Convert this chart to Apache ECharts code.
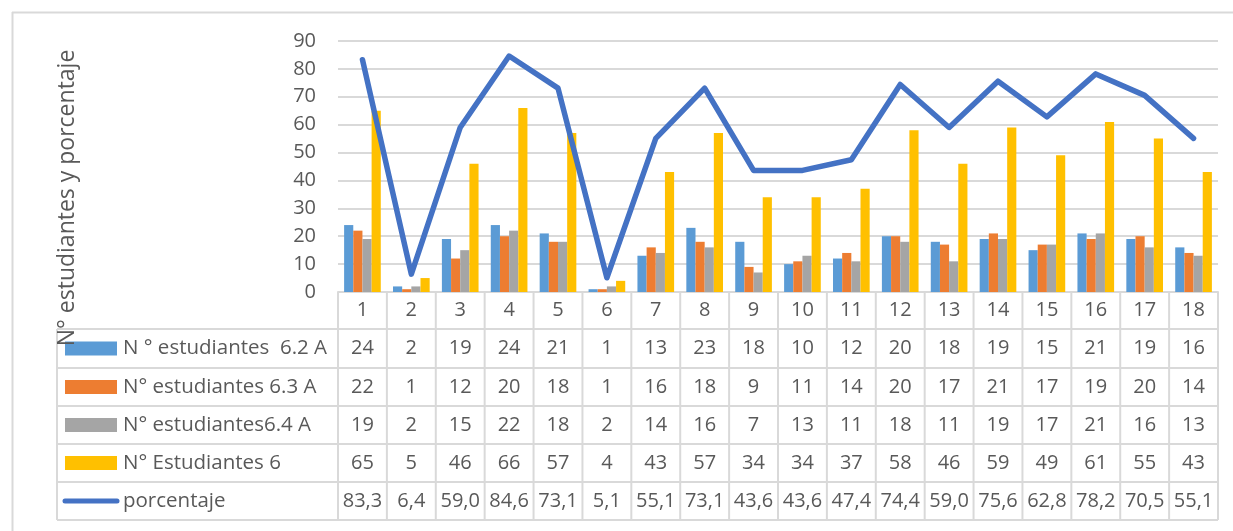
<!DOCTYPE html>
<html>
<head>
<meta charset="utf-8">
<script src="https://cdn.jsdelivr.net/npm/echarts@6/dist/echarts.min.js"></script>
<style>
html,body{margin:0;padding:0;background:#fff;}
#c{width:1233px;height:531px;}
</style>
</head>
<body>
<div id="c"></div>
<script>
const categories = ['1','2','3','4','5','6','7','8','9','10','11','12','13','14','15','16','17','18'];
const s62 = [24,2,19,24,21,1,13,23,18,10,12,20,18,19,15,21,19,16];
const s63 = [22,1,12,20,18,1,16,18,9,11,14,20,17,21,17,19,20,14];
const s64 = [19,2,15,22,18,2,14,16,7,13,11,18,11,19,17,21,16,13];
const s6  = [65,5,46,66,57,4,43,57,34,34,37,58,46,59,49,61,55,43];
const pct = [83.3,6.4,59.0,84.6,73.1,5.1,55.1,73.1,43.6,43.6,47.4,74.4,59.0,75.6,62.8,78.2,70.5,55.1];
const seriesNames = ['N ° estudiantes  6.2 A','N° estudiantes 6.3 A','N° estudiantes6.4 A','N° Estudiantes 6','porcentaje'];
const yTitle = 'N° estudiantes y porcentaje';

const colors = ['#5B9BD5','#ED7D31','#A5A5A5','#FFC000','#4472C4'];
const FONT = '"Open Sans"';
const TXT = '#595959';
const GRID = '#D9D9D9';

const chart = echarts.init(document.getElementById('c'), null, {renderer:'canvas'});
const barData = [s62, s63, s64, s6];
const series = barData.map((d, i) => ({
  name: seriesNames[i], type: 'bar', data: d, barGap: '0%', barCategoryGap: '25%',
  itemStyle: {color: colors[i]}, animation: false, z: 2
}));
series.push({
  name: seriesNames[4], type: 'line', data: pct, symbol: 'none',
  lineStyle: {color: colors[4], width: 5.5, cap: 'round', join: 'round'}, animation: false, z: 3
});

chart.setOption({
  animation: false,
  grid: {left: 338, right: 15, top: 41, bottom: 239},
  xAxis: {
    type: 'category', data: categories,
    axisLabel: {show: false}, axisTick: {show: false},
    axisLine: {lineStyle: {color: GRID, width: 2}}
  },
  yAxis: {
    type: 'value', min: 0, max: 90, interval: 10,
    axisLabel: {fontFamily: 'Open Sans', fontSize: 20, color: TXT, margin: 22},
    splitLine: {lineStyle: {color: GRID, width: 2}},
    axisLine: {show: false}, axisTick: {show: false}
  },
  series: series
});

const xc = categories.map(c => chart.convertToPixel({xAxisIndex: 0}, c));
const colW = xc[1] - xc[0];
const left = xc[0] - colW / 2;
const right = xc[xc.length - 1] + colW / 2;
const y0 = chart.convertToPixel({yAxisIndex: 0}, 0);
const rowOffsets = [0, 37, 76, 114, 152, 190, 228];
const rows = rowOffsets.map(o => y0 + o);
const tableLeft = 57;
const g = [];
const lineStyle = {stroke: GRID, lineWidth: 2};

g.push({type: 'line', shape: {x1: 12, y1: 12.5, x2: 1233, y2: 12.5}, style: {stroke: GRID, lineWidth: 2}});
g.push({type: 'line', shape: {x1: 12.5, y1: 12, x2: 12.5, y2: 531}, style: {stroke: GRID, lineWidth: 2}});

for (let r = 1; r < rows.length; r++) {
  g.push({type: 'line', shape: {x1: tableLeft, y1: rows[r], x2: right, y2: rows[r]}, style: lineStyle});
}
for (let i = 0; i <= categories.length; i++) {
  const x = left + i * colW;
  g.push({type: 'line', shape: {x1: x, y1: rows[0], x2: x, y2: rows[rows.length - 1]}, style: lineStyle});
}
g.push({type: 'line', shape: {x1: tableLeft, y1: rows[1], x2: tableLeft, y2: rows[rows.length - 1]}, style: lineStyle});

const txt = (x, y, s, align, size) => ({
  type: 'text', x: x, y: y,
  style: {text: s, fill: TXT, font: (size || 20) + 'px ' + FONT, align: align || 'center', verticalAlign: 'middle'}
});
categories.forEach((c, i) => g.push(txt(xc[i], (rows[0] + rows[1]) / 2, c)));
const rowsData = [s62, s63, s64, s6, pct.map(v => v.toFixed(1).replace('.', ','))];
rowsData.forEach((d, r) => {
  const yc = (rows[r + 1] + rows[r + 2]) / 2;
  d.forEach((v, i) => g.push(txt(xc[i], yc, String(v), 'center', 20)));
  if (r < 4) {
    g.push({type: 'rect', shape: {x: 65, y: yc - 7, width: 52, height: 14}, style: {fill: colors[r]}});
  } else {
    g.push({type: 'line', shape: {x1: 65, y1: yc, x2: 117, y2: yc}, style: {stroke: colors[4], lineWidth: 5, lineCap: 'round'}});
  }
  g.push(txt(123, yc, seriesNames[r], 'left', 20.5));
});

g.push({
  type: 'text', x: 67, y: 198, rotation: Math.PI / 2,
  style: {text: yTitle, fill: TXT, font: '23px ' + FONT, align: 'center', verticalAlign: 'middle'}
});

chart.setOption({graphic: {elements: g}});
</script>
</body>
</html>
